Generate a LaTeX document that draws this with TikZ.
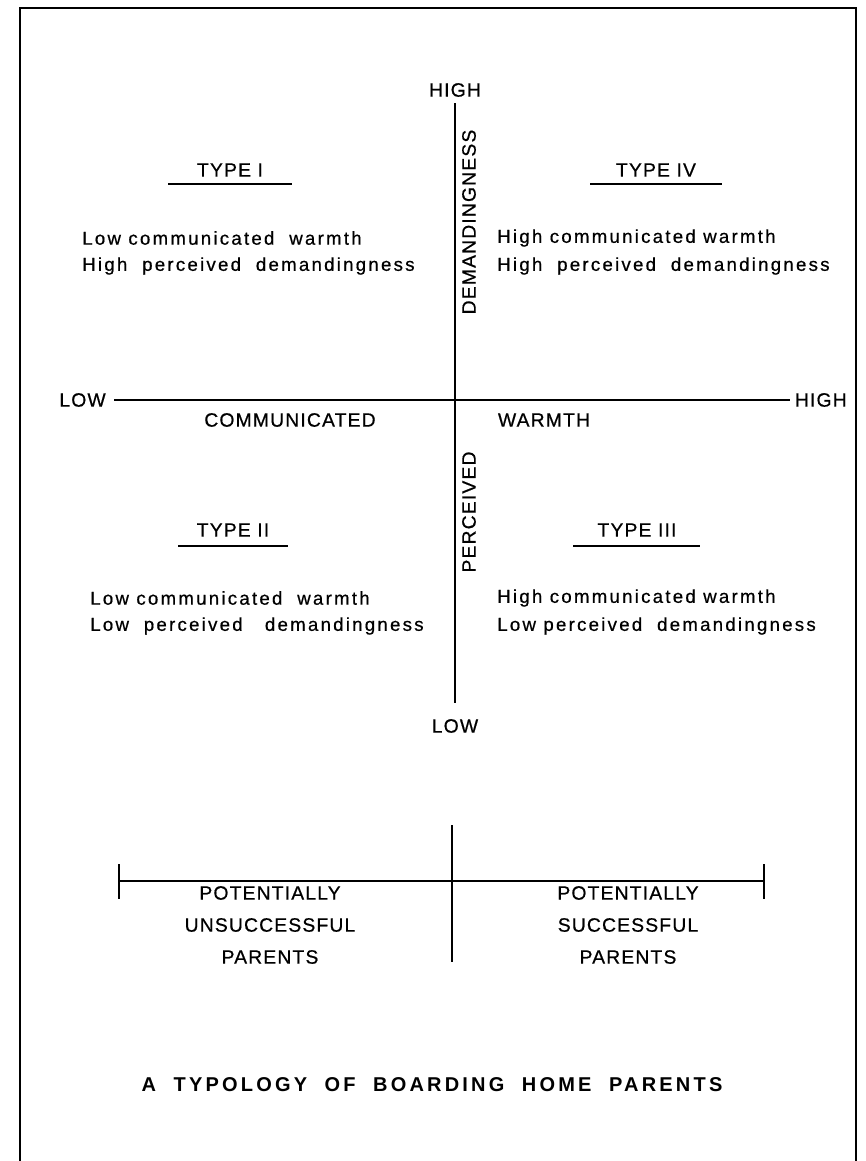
\documentclass[tikz,border=0pt]{standalone}
\usepackage{fontspec}
\setmainfont{Liberation Sans}[LetterSpace=12,FakeBold=0.6]
\newfontfamily\capsfont{Liberation Sans}[LetterSpace=6,FakeBold=0.6]
\newfontfamily\titlefont{Liberation Sans}[LetterSpace=16]
\begin{document}
\begin{tikzpicture}[x=0.75pt,y=-0.75pt,
  lbl/.style={inner sep=0pt,font=\capsfont\fontsize{14.5}{16}\selectfont},
  body/.style={inner sep=0pt,anchor=west,font=\fontsize{14}{16}\selectfont},
  axisline/.style={line width=1.8pt},
  rule/.style={line width=1.4pt},
  frameline/.style={line width=1.5pt}]
\useasboundingbox (0,0) rectangle (866,1161);
% frame
\coordinate (fbl) at (20,1161);
\coordinate (ftl) at (20,8);
\coordinate (ftr) at (856,8);
\coordinate (fbr) at (856,1161);
\draw[frameline] (fbl) -- (ftl) -- (ftr) -- (fbr);
% vertical axis
\node[lbl] (hightop) at (455,90) {HIGH};
\node[lbl] (lowbot) at (455,726) {LOW};
\coordinate (vtop) at (455,103);
\coordinate (vbot) at (455,703);
\draw[axisline] (vtop) -- (vbot);
\node[lbl,rotate=90] (dem) at (469,222) {DEMANDINGNESS};
\node[lbl,rotate=90] (perc) at (469,512) {PERCEIVED};
% horizontal axis
\node[lbl,anchor=east] (lowleft) at (106,400) {LOW};
\node[lbl,anchor=east] (highright) at (847,400) {HIGH};
\coordinate (hl) at (114,400);
\coordinate (hr) at (790,400);
\draw[axisline] (hl) -- (hr);
\node[lbl] (comm) at (290,420) {COMMUNICATED};
\node[lbl] (warm) at (544,420) {WARMTH};
% types
\node[lbl] (t1) at (230,170) {TYPE I};
\draw[rule] (168,184) coordinate (u1a) -- (292,184) coordinate (u1b);
\node[lbl] (t4) at (656,170) {TYPE IV};
\draw[rule] (590,184) coordinate (u4a) -- (722,184) coordinate (u4b);
\node[lbl] (t2) at (233,530) {TYPE II};
\draw[rule] (178,546) coordinate (u2a) -- (288,546) coordinate (u2b);
\node[lbl] (t3) at (637,530) {TYPE III};
\draw[rule] (573,546) coordinate (u3a) -- (700,546) coordinate (u3b);
% quadrant texts
\node[body] (q1a) at (82,238) {Low communicated\ \ warmth};
\node[body] (q1b) at (82,266) {High\ \ perceived\ \ demandingness};
\node[body] (q4a) at (497,238) {High communicated warmth};
\node[body] (q4b) at (497,266) {High\ \ perceived\ \ demandingness};
\node[body] (q2a) at (90,598) {Low communicated\ \ warmth};
\node[body] (q2b) at (90,626) {Low\ \ perceived\ \ \ demandingness};
\node[body] (q3a) at (497,598) {High communicated warmth};
\node[body] (q3b) at (497,626) {Low perceived\ \ demandingness};
% bottom scale
\coordinate (bl) at (119,881);
\coordinate (br) at (764,881);
\draw[axisline] (bl) -- (br);
\coordinate (blt) at (119,864); \coordinate (blb) at (119,899);
\coordinate (brt) at (764,864); \coordinate (brb) at (764,899);
\coordinate (bct) at (452,825); \coordinate (bcb) at (452,962);
\draw[rule] (blt) -- (blb);
\draw[rule] (brt) -- (brb);
\draw[rule] (bct) -- (bcb);
\node[lbl,align=center,font=\capsfont\fontsize{14.5}{24}\selectfont] (unsucc) at (270,925) {POTENTIALLY\\UNSUCCESSFUL\\PARENTS};
\node[lbl,align=center,font=\capsfont\fontsize{14.5}{24}\selectfont] (succ) at (628,925) {POTENTIALLY\\SUCCESSFUL\\PARENTS};
% title
\node[inner sep=0pt,font=\titlefont\fontsize{15}{18}\selectfont\bfseries] (title) at (432,1085) {A\ \ TYPOLOGY\ \ OF\ \ BOARDING\ \ HOME\ \ PARENTS};
\end{tikzpicture}
\end{document}
